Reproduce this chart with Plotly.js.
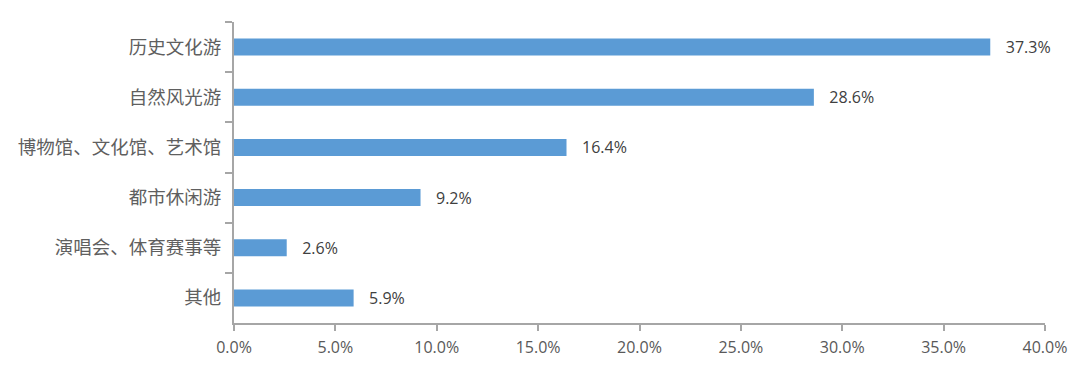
<!DOCTYPE html>
<html><head><meta charset="utf-8">
<script src="https://cdn.plot.ly/plotly-3.0.1.min.js"></script>
<style>html,body{margin:0;padding:0;background:#fff}#chart{width:1080px;height:376px}</style>
</head><body><div id="chart"></div>
<script>
const categories = ["历史文化游","自然风光游","博物馆、文化馆、艺术馆","都市休闲游","演唱会、体育赛事等","其他"];
const values = [37.3, 28.6, 16.4, 9.2, 2.6, 5.9];
const xTickVals = [0,5,10,15,20,25,30,35,40];
const xTickText = xTickVals.map(v => v.toFixed(1) + "%");

const trace = {
  type: "bar",
  orientation: "h",
  y: categories,
  x: values,
  marker: {color: "#5b9bd5"},
  width: 0.34,
  text: values.map(v => v.toFixed(1) + "%"),
  texttemplate: "   %{text}",
  textposition: "outside",
  constraintext: "none",
  cliponaxis: false,
  outsidetextfont: {family: "'Open Sans', 'Liberation Sans', sans-serif", size: 16, color: "#404040"},
  textfont: {family: "'Open Sans', 'Liberation Sans', sans-serif", size: 16, color: "#404040"},
  hoverinfo: "none"
};

const layout = {
  width: 1080, height: 376,
  margin: {l: 234, r: 35, t: 22, b: 53},
  paper_bgcolor: "#fff", plot_bgcolor: "#fff",
  showlegend: false,
  xaxis: {
    range: [0, 40],
    tickvals: xTickVals, ticktext: xTickText,
    showgrid: false, zeroline: false,
    showline: true, linecolor: "#a6a6a6", linewidth: 2,
    ticks: "outside", ticklen: 6, tickcolor: "#a6a6a6", tickwidth: 2,
    ticklabelstandoff: 3,
    tickfont: {family: "'Open Sans', 'Liberation Sans', sans-serif", size: 16, color: "#595959"},
    fixedrange: true
  },
  yaxis: {
    type: "category",
    autorange: "reversed",
    showgrid: false, zeroline: false,
    showline: true, linecolor: "#a6a6a6", linewidth: 2,
    ticks: "outside", tickson: "boundaries", ticklen: 7, tickcolor: "#a6a6a6", tickwidth: 2,
    ticklabelstandoff: 7,
    tickfont: {family: "'Noto Sans CJK SC', sans-serif", size: 18.5, color: "#5f5f5f"},
    fixedrange: true
  }
};

Plotly.newPlot("chart", [trace], layout, {displayModeBar: false, staticPlot: true});
</script></body></html>
